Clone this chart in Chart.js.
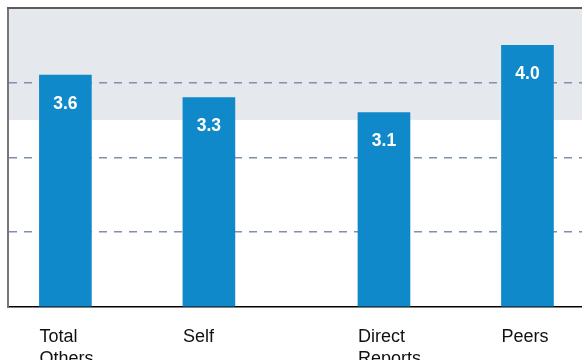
<!DOCTYPE html>
<html lang="en">
<head>
    <meta charset="UTF-8">
    <title>Ratings</title>
    <script src="https://cdn.jsdelivr.net/npm/chart.js@4/dist/chart.umd.min.js"></script>
    <style>
        html, body { margin: 0; padding: 0; background: #ffffff; overflow: hidden; }
        #wrap { width: 582px; height: 360px; }
    </style>
</head>
<body>
    <div id="wrap"><canvas id="ratingChart"></canvas></div>

    <script>
        // datos
        const categories = [['Total', 'Others'], ['Self'], ['Direct', 'Reports'], ['Peers']];
        const scores = [3.6, 3.3, 3.1, 4.0];
        const slots = [0.4, 1.4, 2.62, 3.62];   // gap between Self and Direct Reports
        const gridValues = [1.5, 2.5, 3.5];
        const bandFrom = 3.0;                    // shaded zone
        const bandTo = 4.5;

        const FONT = "'Liberation Sans', Arial, sans-serif";

        // zona gris + borde superior
        const marco = {
            id: 'marco',
            beforeDraw(chart) {
                const { ctx, chartArea: a, scales: { y } } = chart;
                const top = y.getPixelForValue(bandTo);
                const bottom = y.getPixelForValue(bandFrom);
                ctx.save();
                ctx.fillStyle = '#e5e8ec';
                ctx.fillRect(a.left, top, a.right - a.left, bottom - top);
                ctx.restore();
            },
            afterDraw(chart) {
                const { ctx, chartArea: a } = chart;
                ctx.save();
                ctx.strokeStyle = '#5c5c5c';
                ctx.lineWidth = 2;
                ctx.beginPath();
                ctx.moveTo(a.left - 1, a.top);
                ctx.lineTo(a.right, a.top);
                ctx.stroke();
                ctx.restore();
            }
        };

        // valores dentro de las barras
        const valores = {
            id: 'valores',
            afterDatasetsDraw(chart) {
                const { ctx } = chart;
                const meta = chart.getDatasetMeta(0);
                ctx.save();
                ctx.fillStyle = '#ffffff';
                ctx.font = 'bold 17.5px ' + FONT;
                ctx.textAlign = 'center';
                ctx.textBaseline = 'middle';
                meta.data.forEach((bar, i) => {
                    ctx.fillText(scores[i].toFixed(1), bar.x, bar.y + 29);
                });
                ctx.restore();
            }
        };

        new Chart(document.getElementById('ratingChart'), {
            type: 'bar',
            data: {
                datasets: [{
                    data: scores.map((v, i) => ({ x: slots[i], y: v })),
                    backgroundColor: '#0f89c9',
                    borderWidth: 0,
                    barThickness: 52
                }]
            },
            options: {
                responsive: true,
                maintainAspectRatio: false,
                animation: false,
                layout: {
                    autoPadding: false,
                    padding: { left: 8, top: 8, right: 0, bottom: 0 }
                },
                plugins: {
                    legend: { display: false },
                    tooltip: { enabled: false }
                },
                scales: {
                    x: {
                        type: 'linear',
                        min: 0,
                        max: 4,
                        offset: false,
                        afterBuildTicks(axis) {
                            axis.ticks = slots.map(v => ({ value: v }));
                        },
                        afterFit(axis) {
                            axis.height = 53.5;
                            axis.paddingLeft = 0;
                            axis.paddingRight = 0;
                        },
                        ticks: {
                            align: 'start',
                            labelOffset: -26,
                            padding: 20,
                            color: '#111111',
                            font: { family: FONT, size: 18 },
                            callback: (v, i) => categories[i]
                        },
                        grid: { offset: false, drawOnChartArea: false, drawTicks: false },
                        border: { color: '#000000', width: 1.5 }
                    },
                    y: {
                        min: 0.5,
                        max: 4.5,
                        afterBuildTicks(axis) {
                            axis.ticks = gridValues.map(v => ({ value: v }));
                        },
                        ticks: { display: false },
                        grid: { color: '#8090aa', lineWidth: 1.5, drawTicks: false },
                        border: { color: '#777777', width: 2, dash: [8, 7] }
                    }
                }
            },
            plugins: [marco, valores]
        });
    </script>
</body>
</html>
